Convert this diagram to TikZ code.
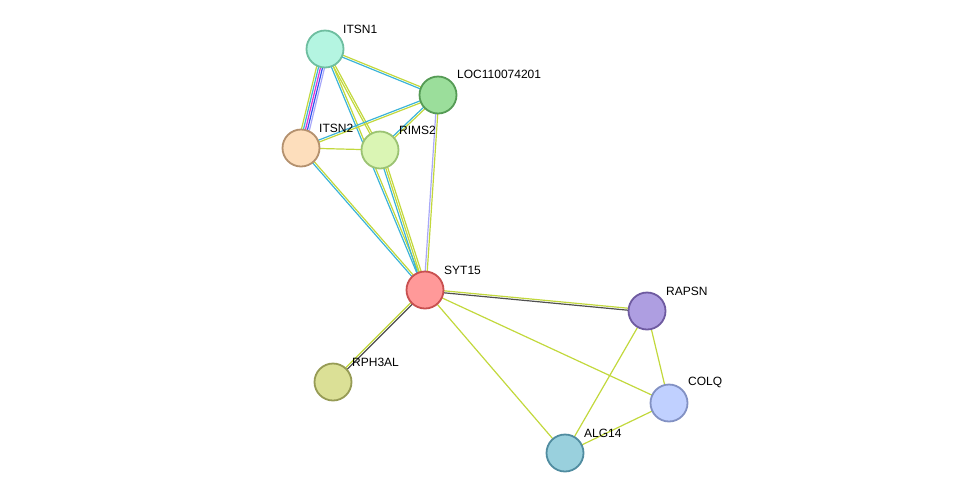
\documentclass[tikz,border=0pt]{standalone}
\usepackage{fontspec}
\setmainfont{Liberation Sans}
\usetikzlibrary{calc,backgrounds}
\definecolor{tm}{HTML}{C2D83C}
\definecolor{db}{HTML}{3CB4D8}
\definecolor{ex}{HTML}{E030D0}
\definecolor{co}{HTML}{3050F0}
\definecolor{ho}{HTML}{A8A8F8}
\definecolor{cx}{HTML}{505050}
\newcommand\medge[3]{% from, to, list of offset/color
  \foreach \o/\c in {#3}{\draw[\c,line width=1.2pt] ($(#1)!\o pt!90:(#2)$) -- ($(#2)!\o pt!-90:(#1)$);}}
\tikzset{prot/.style={circle,minimum size=37pt,inner sep=0pt,line width=1.8pt},
 lab/.style={font=\fontsize{12}{13}\selectfont,anchor=south west,inner sep=0pt}}
\begin{document}
\begin{tikzpicture}[x=1pt,y=-1pt]
\useasboundingbox (0,0) rectangle (975,499);
\node[prot,fill={rgb,255:red,180;green,245;blue,225},draw={rgb,255:red,110;green,190;blue,160}] (itsn1) at (325,49) {};
\node[prot,fill={rgb,255:red,155;green,222;blue,155},draw={rgb,255:red,85;green,155;blue,85}] (loc) at (438,95) {};
\node[prot,fill={rgb,255:red,253;green,222;blue,188},draw={rgb,255:red,180;green,145;blue,110}] (itsn2) at (301,148) {};
\node[prot,fill={rgb,255:red,218;green,245;blue,180},draw={rgb,255:red,155;green,195;blue,115}] (rims2) at (380,150) {};
\node[prot,fill={rgb,255:red,255;green,153;blue,153},draw={rgb,255:red,200;green,80;blue,80}] (syt15) at (425,290) {};
\node[prot,fill={rgb,255:red,174;green,158;blue,225},draw={rgb,255:red,110;green,90;blue,160}] (rapsn) at (647,311) {};
\node[prot,fill={rgb,255:red,219;green,224;blue,150},draw={rgb,255:red,150;green,155;blue,85}] (rph3al) at (333,382) {};
\node[prot,fill={rgb,255:red,192;green,208;blue,255},draw={rgb,255:red,130;green,145;blue,195}] (colq) at (669,403) {};
\node[prot,fill={rgb,255:red,153;green,208;blue,221},draw={rgb,255:red,80;green,140;blue,160}] (alg14) at (565,453) {};
\begin{scope}[on background layer]
\medge{itsn1}{itsn2}{-4/tm,-2/db,0/ex,2/co,4/ho}
\medge{itsn1}{loc}{-1/db,1/tm}
\medge{itsn1}{rims2}{-1/tm,1/tm}
\medge{itsn1}{syt15}{-1/db,1/tm}
\medge{loc}{itsn2}{-1/db,1/tm}
\medge{loc}{rims2}{-1/db,1/tm}
\medge{loc}{syt15}{-1/ho,1/tm}
\medge{itsn2}{rims2}{0/tm}
\medge{itsn2}{syt15}{-1/db,1/tm}
\medge{rims2}{syt15}{-2/db,0/tm,2/tm}
\medge{syt15}{rapsn}{-1/cx,1/tm}
\medge{syt15}{rph3al}{-1/tm,1/cx}
\medge{syt15}{colq}{0/tm}
\medge{syt15}{alg14}{0/tm}
\medge{rapsn}{colq}{0/tm}
\medge{rapsn}{alg14}{0/tm}
\medge{colq}{alg14}{0/tm}
\end{scope}
\node[lab] (l1) at (343,34) {ITSN1};
\node[lab] (l2) at (457,79) {LOC110074201};
\node[lab] (l3) at (319,133) {ITSN2};
\node[lab] (l4) at (399,135) {RIMS2};
\node[lab] (l5) at (444,275) {SYT15};
\node[lab] (l6) at (666,296) {RAPSN};
\node[lab] (l7) at (352,367) {RPH3AL};
\node[lab] (l8) at (688,388) {COLQ};
\node[lab] (l9) at (584,438) {ALG14};
\end{tikzpicture}
\end{document}
